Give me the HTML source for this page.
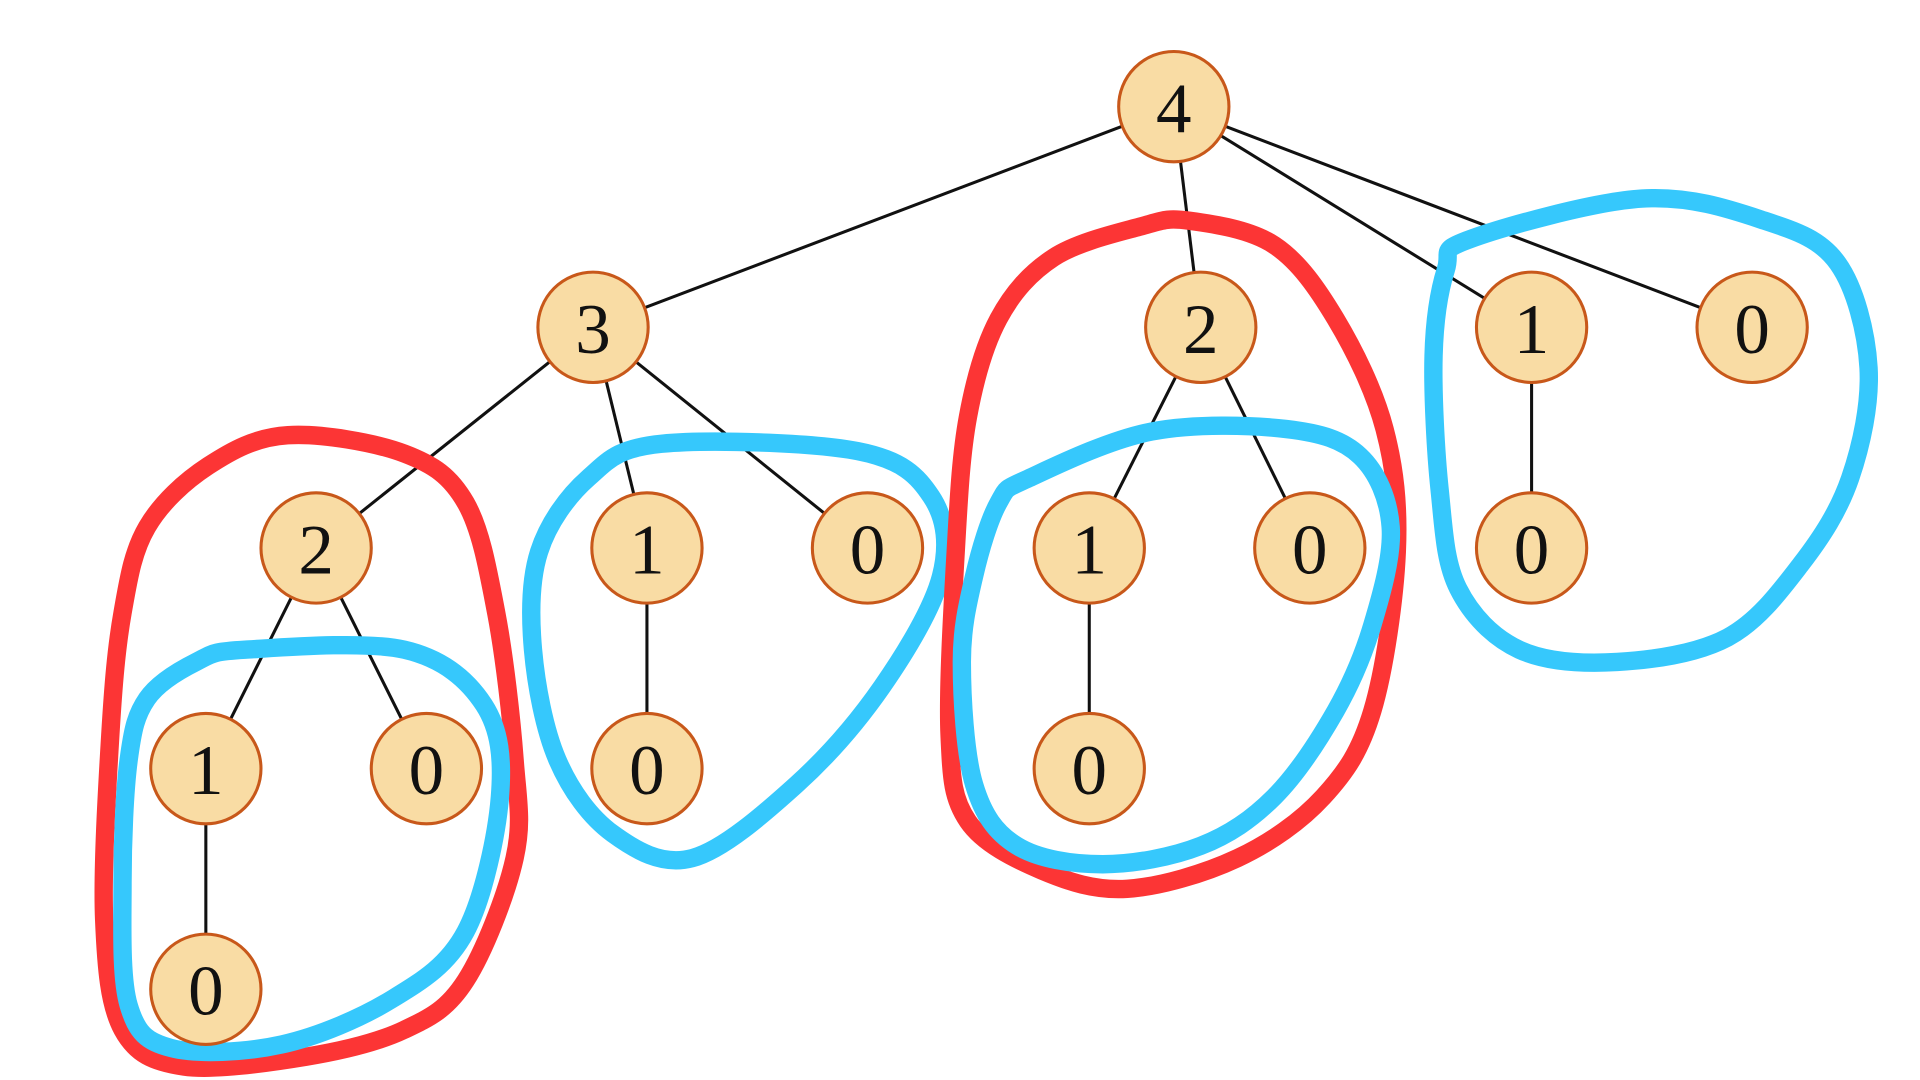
<!DOCTYPE html>
<html><head><meta charset="utf-8"><style>
html,body{margin:0;padding:0;background:#fff;width:1920px;height:1080px;overflow:hidden}
svg{display:block}
text{font-family:"Liberation Serif",serif;font-size:58px;fill:#111;text-anchor:middle;dominant-baseline:central}
</style></head><body>
<svg id="s" width="1920" height="1080" viewBox="0 0 1567 881" preserveAspectRatio="none">
<g id="edges" stroke="#111" stroke-width="2.5"></g>
<g id="blobs" fill="none" stroke-width="15" stroke-linejoin="round"></g>
<g id="nodes"></g>
</svg>
<script>
var N={a:[958,87,'4'],b:[484,267,'3'],c:[980,267,'2'],d:[1250,267,'1'],e:[1430,267,'0'],
f:[258,447,'2'],g:[528,447,'1'],h:[708,447,'0'],i:[889,447,'1'],j:[1069,447,'0'],k:[1250,447,'0'],
l:[168,627,'1'],m:[348,627,'0'],n:[528,627,'0'],o:[889,627,'0'],p:[168,807,'0']};
var E=['ab','ac','ad','ae','bf','bg','bh','ci','cj','dk','fl','fm','gn','io','lp'];
var ns='http://www.w3.org/2000/svg';
function el(t,a,p){var x=document.createElementNS(ns,t);for(var k in a)x.setAttribute(k,a[k]);p.appendChild(x);return x;}
var eg=document.getElementById('edges'),ng=document.getElementById('nodes'),bg=document.getElementById('blobs');
E.forEach(function(e){var A=N[e[0]],B=N[e[1]];el('line',{x1:A[0],y1:A[1],x2:B[0],y2:B[1]},eg);});
function cr(P){var n=P.length,d='M'+P[0][0]+','+P[0][1];
for(var i=0;i<n;i++){var p0=P[(i-1+n)%n],p1=P[i],p2=P[(i+1)%n],p3=P[(i+2)%n];
d+=' C'+(p1[0]+(p2[0]-p0[0])/6)+','+(p1[1]+(p2[1]-p0[1])/6)+' '+(p2[0]-(p3[0]-p1[0])/6)+','+(p2[1]-(p3[1]-p1[1])/6)+' '+p2[0]+','+p2[1];}
return d+'Z';}
var R='#fc3535',B='#36c8fc';
var blobs=[
[R,[[235,355],[330,370],[380,410],[405,500],[420,620],[420,700],[380,800],[330,840],[250,862],[150,870],[100,840],[85,750],[90,600],[100,500],[120,430],[170,380]]],
[B,[[200,530],[330,530],[395,575],[408,650],[380,760],[320,815],[230,852],[140,855],[105,820],[100,720],[105,620],[120,570],[160,540]]],
[B,[[540,362],[700,368],[760,405],[768,470],[720,560],[650,640],[565,700],[500,680],[455,620],[435,530],[440,450],[480,390]]],
[R,[[970,180],[1040,200],[1090,260],[1130,350],[1140,450],[1120,580],[1080,650],[1010,700],[920,725],[850,710],[790,670],[775,600],[780,450],[790,340],[815,260],[860,210],[930,185]]],
[B,[[840,390],[940,352],[1050,350],[1110,372],[1135,430],[1120,510],[1090,580],[1040,650],[980,690],[900,705],[830,690],[795,640],[785,540],[795,470],[815,410]]],
[B,[[1200,195],[1340,162],[1440,180],[1500,215],[1525,300],[1510,390],[1470,460],[1410,520],[1320,540],[1240,530],[1190,480],[1175,400],[1170,290],[1180,220]]]];
blobs.forEach(function(b){el('path',{d:cr(b[1]),stroke:b[0]},bg);});
for(var k in N){var v=N[k];el('circle',{cx:v[0],cy:v[1],r:45,fill:'#f9dca4',stroke:'#c8581a','stroke-width':2.5},ng);
var t=el('text',{x:v[0],y:v[1]+2},ng);t.textContent=v[2];}
</script>
</body></html>
